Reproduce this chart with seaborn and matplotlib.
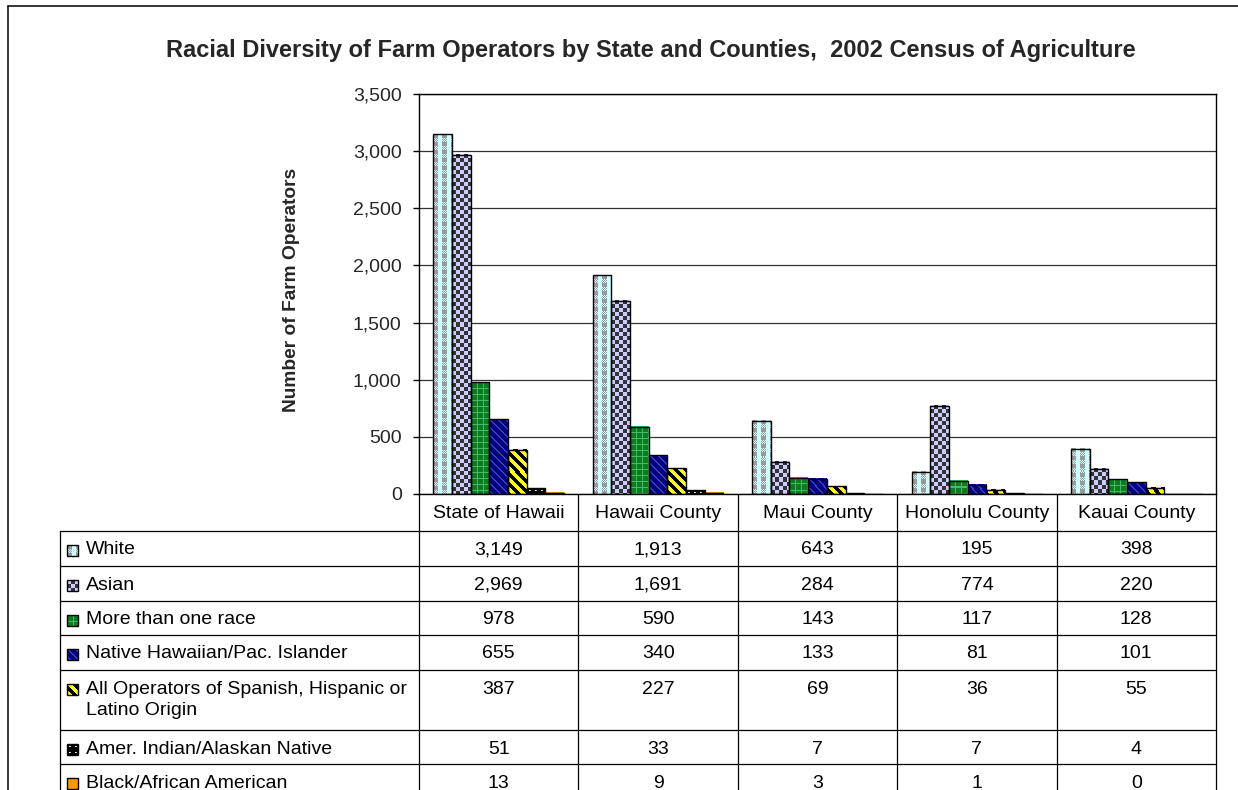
import numpy as np
import pandas as pd
import matplotlib
matplotlib.use("Agg")
import matplotlib.pyplot as plt
from matplotlib.colors import to_rgb
from matplotlib.patches import Rectangle
import seaborn as sns

# ---- data -------------------------------------------------------------
regions = ["State of Hawaii", "Hawaii County", "Maui County",
           "Honolulu County", "Kauai County"]
races = ["White", "Asian", "More than one race",
         "Native Hawaiian/Pac. Islander",
         "All Operators of Spanish, Hispanic or\nLatino Origin",
         "Amer. Indian/Alaskan Native", "Black/African American"]
white = [3149, 1913, 643, 195, 398]
asian = [2969, 1691, 284, 774, 220]
multi_race = [978, 590, 143, 117, 128]
native_hawaiian = [655, 340, 133, 81, 101]
hispanic = [387, 227, 69, 36, 55]
amer_indian = [51, 33, 7, 7, 4]
black = [13, 9, 3, 1, 0]
series = [white, asian, multi_race, native_hawaiian, hispanic, amer_indian, black]
y_ticks = [0, 500, 1000, 1500, 2000, 2500, 3000, 3500]

title = "Racial Diversity of Farm Operators by State and Counties,  2002 Census of Agriculture"
y_label = "Number of Farm Operators"

# ---- styling ----------------------------------------------------------
sns.set_style("white")
plt.rcParams["font.family"] = ["Liberation Sans", "DejaVu Sans"]

base_colors = ["#CCFFFF", "#CCCCFF", "#008000", "#000080",
               "#FFFF00", "#000000", "#FF9900"]
pattern_kinds = ["white", "asian", "multi", "native", "hispanic", "amer", "black"]


def texture(kind, h, w):
    """Small Excel-like fill pattern as an RGB array (h x w pixels)."""
    yy, xx = np.mgrid[0:h, 0:w]
    img = np.empty((h, w, 3))
    if kind == "white":
        img[:] = to_rgb("#CCFFFF")
        band = (xx % 9) < 5
        solid = band & ((yy % 8) < 4)
        dots = band & ((yy % 8) >= 4) & ((xx + yy) % 2 == 0)
        img[solid | dots] = to_rgb("#999999")
    elif kind == "asian":
        img[:] = to_rgb("#CCCCFF")
        img[((xx // 4 + yy // 4) % 2) == 1] = to_rgb("#333333")
    elif kind == "multi":
        img[:] = to_rgb("#0A7D1E")
        img[(xx % 6 == 0) | (yy % 6 == 0)] = to_rgb("#45B86A")
    elif kind == "native":
        img[:] = to_rgb("#000080")
        img[((xx - yy) % 8) < 2] = to_rgb("#3C3CB4")
    elif kind == "hispanic":
        img[:] = to_rgb("#000000")
        img[((xx - yy) % 10) < 5] = to_rgb("#FFFF00")
    elif kind == "amer":
        img[:] = to_rgb("#000000")
        img[(xx % 6 == 2) & (yy % 6 == 2)] = to_rgb("#FFFFFF")
        img[(xx % 6 == 3) & (yy % 6 == 2)] = to_rgb("#BBBBBB")
    else:
        img[:] = to_rgb("#FF9900")
    return img


# ---- figure -----------------------------------------------------------
W_PX, H_PX = 1238, 790
fig = plt.figure(figsize=(W_PX / 100, H_PX / 100), dpi=100)
fig.patch.set_facecolor("white")

plot_left, plot_right, plot_top, plot_bottom = 419, 1216, 94, 494

# overlay in pixel coordinates for title, table and frame
tab = fig.add_axes([0, 0, 1, 1], zorder=-1)
tab.set_xlim(0, W_PX)
tab.set_ylim(H_PX, 0)
tab.axis("off")

ax = fig.add_axes([plot_left / W_PX, (H_PX - plot_bottom) / H_PX,
                   (plot_right - plot_left) / W_PX,
                   (plot_bottom - plot_top) / H_PX])

df = pd.DataFrame({
    "region": np.tile(regions, len(races)),
    "race": np.repeat(races, len(regions)),
    "operators": np.concatenate(series),
})

sns.barplot(data=df, x="region", y="operators", hue="race",
            order=regions, hue_order=races,
            palette=dict(zip(races, base_colors)),
            width=0.82, gap=0, saturation=1, errorbar=None,
            edgecolor="black", linewidth=1.0, legend=False, ax=ax)

ax.set_xlim(-0.5, len(regions) - 0.5)
ax.set_ylim(0, 3500)
ax.set_yticks(y_ticks)
ax.set_yticklabels([f"{v:,}" for v in y_ticks], fontsize=14)
ax.set_xticks([])
ax.set_xlabel("")
ax.set_ylabel("")
ax.tick_params(axis="y", direction="out", length=4.5, width=1,
               pad=8, color="black", left=True)
ax.set_axisbelow(True)
ax.yaxis.grid(True, color="#333333", linewidth=0.9)
for s in ax.spines.values():
    s.set_visible(True)
    s.set_color("black")
    s.set_linewidth(1.0)

# patterned fills for every bar
for kind, container in zip(pattern_kinds, ax.containers):
    for p in container.patches:
        x0, y0 = p.get_x(), p.get_y()
        w, h = p.get_width(), p.get_height()
        (dx0, dy0), (dx1, dy1) = ax.transData.transform([(x0, y0), (x0 + w, y0 + h)])
        wpx, hpx = int(round(abs(dx1 - dx0))), int(round(abs(dy1 - dy0)))
        if hpx >= 1 and wpx >= 1:
            ax.imshow(texture(kind, hpx, wpx), extent=(x0, x0 + w, y0, y0 + h),
                      origin="upper", aspect="auto", interpolation="nearest",
                      zorder=2.5)
        p.set_facecolor("none")
        p.set_zorder(3)

ax.set_xlim(-0.5, len(regions) - 0.5)
ax.set_ylim(0, 3500)
ax.set_aspect("auto")

# ---- title and axis label ---------------------------------------------
tab.text(651, 56.5, title, ha="center", va="baseline", fontsize=17,
         fontweight="bold")
tab.text(292, 290, y_label, ha="center", va="center", rotation=90,
         fontsize=13.8, fontweight="bold")

# outer frame
tab.plot([8, W_PX], [6, 6], color="black", lw=1.1, clip_on=False)
tab.plot([8, 8], [6, H_PX], color="black", lw=1.1, clip_on=False)

# ---- data table -------------------------------------------------------
col_w = (plot_right - plot_left) / len(regions)
col_edges = [plot_left + k * col_w for k in range(len(regions) + 1)]
table_left = 60
header_bottom = 531
row_heights = [35, 35, 34, 35, 60, 34, 34]
row_tops = [header_bottom]
for rh in row_heights:
    row_tops.append(row_tops[-1] + rh)

line_kw = dict(color="black", lw=0.9, clip_on=False)
for y in row_tops:
    tab.plot([table_left, plot_right], [y, y], **line_kw)
tab.plot([table_left, table_left], [header_bottom, H_PX + 10], **line_kw)
for x in col_edges:
    tab.plot([x, x], [plot_bottom, H_PX + 10], **line_kw)

txt_kw = dict(fontsize=14, color="black")
for k, name in enumerate(regions):
    cx = (col_edges[k] + col_edges[k + 1]) / 2
    tab.text(cx, (plot_bottom + header_bottom) / 2 + 1, name,
             ha="center", va="center", **txt_kw)

for r, (name, kind, vals) in enumerate(zip(races, pattern_kinds, series)):
    top = row_tops[r]
    # legend key
    key = 11
    kx, ky = 67, top + 14
    tab.imshow(texture(kind, key, key), extent=(kx, kx + key, ky + key, ky),
               origin="upper", aspect="auto", interpolation="nearest", zorder=2)
    tab.add_patch(Rectangle((kx, ky), key, key, fill=False,
                            edgecolor="black", lw=1.0, zorder=3))
    tab.text(86, top + 10.5, name, ha="left", va="top", linespacing=1.32, **txt_kw)
    for k, v in enumerate(vals):
        cx = (col_edges[k] + col_edges[k + 1]) / 2
        tab.text(cx, top + 10.5, f"{v:,}", ha="center", va="top", **txt_kw)

tab.set_xlim(0, W_PX)
tab.set_ylim(H_PX, 0)
tab.set_aspect("auto")

fig.savefig("out.png", dpi=100, facecolor="white")
